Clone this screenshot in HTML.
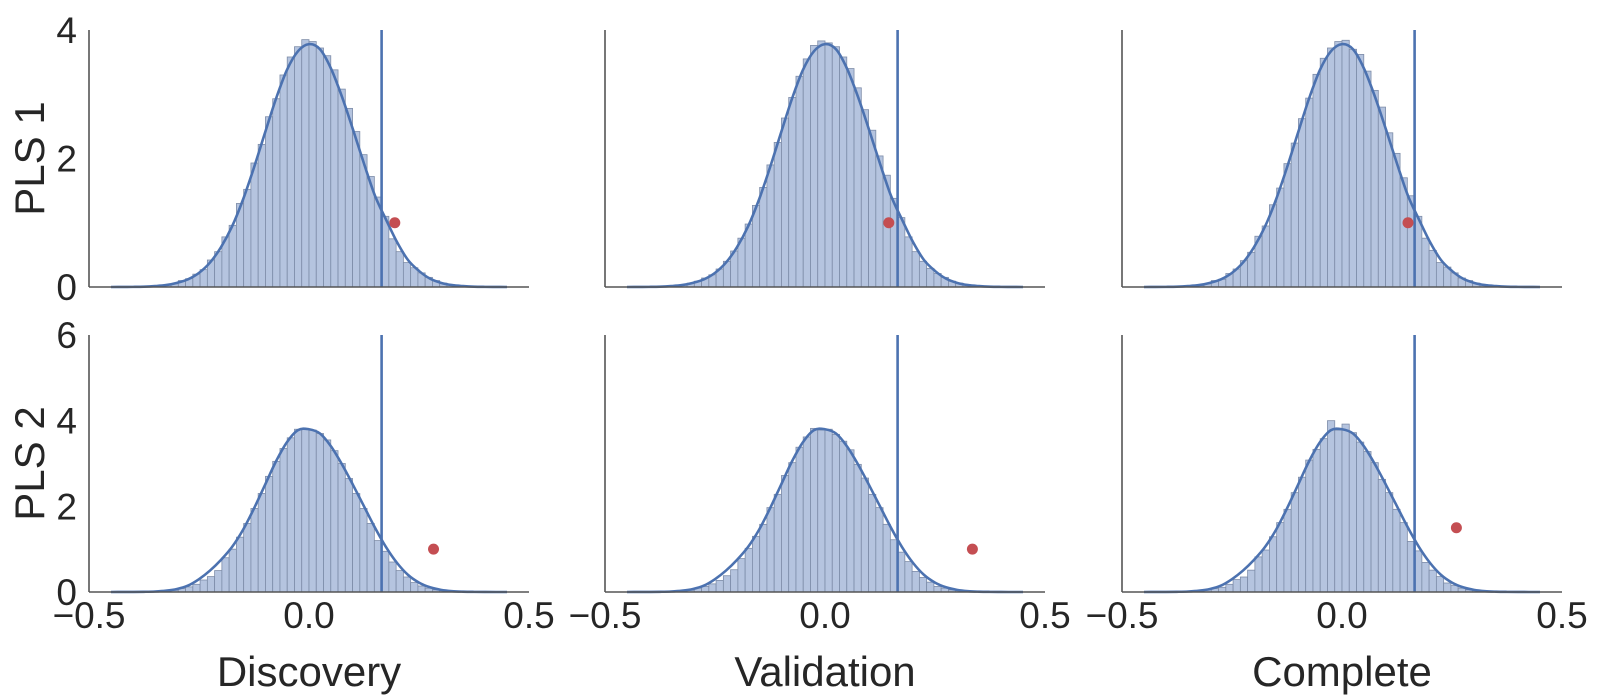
<!DOCTYPE html>
<html><head><meta charset="utf-8"><style>
html,body{margin:0;padding:0;background:#fff;}
svg{display:block;}
text{font-family:"Liberation Sans",Arial,sans-serif;fill:#262626;}
</style></head><body>
<svg id="chart" width="1600" height="695" viewBox="0 0 1600 695" xmlns="http://www.w3.org/2000/svg"></svg>
<script>
const binStart = -0.33;
const binWidth = 0.0165;
const kdeStart = -0.45;
const kdeStep = 0.025;
const colTitles = ["Discovery", "Validation", "Complete"];
const rowTitles = ["PLS 1", "PLS 2"];
const xTicks = [-0.5, 0.0, 0.5];
const xTickLabels = ["\u22120.5", "0.0", "0.5"];
const yTicksRow1 = [0, 2, 4];
const yTicksRow2 = [0, 2, 4, 6];
const yMaxRows = [4, 6];
const thresholds = [[0.165, 0.165, 0.165], [0.165, 0.165, 0.165]];
const observedX = [[0.195, 0.145, 0.15], [0.283, 0.335, 0.26]];
const observedY = [[1.0, 1.0, 1.0], [1.0, 1.0, 1.5]];
const histR1C1 = [0.03,0.05,0.10,0.13,0.20,0.27,0.42,0.55,0.78,0.96,1.30,1.52,1.93,2.22,2.65,2.93,3.30,3.58,3.74,3.85,3.82,3.72,3.60,3.38,3.08,2.78,2.42,2.06,1.72,1.40,1.10,0.75,0.55,0.38,0.30,0.22,0.15,0.10,0.06,0.04];
const histR1C2 = [0.03,0.06,0.09,0.14,0.19,0.28,0.40,0.56,0.76,0.98,1.27,1.55,1.90,2.25,2.63,2.95,3.28,3.55,3.76,3.83,3.80,3.74,3.58,3.40,3.10,2.76,2.44,2.04,1.74,1.38,1.08,0.78,0.55,0.40,0.29,0.21,0.15,0.09,0.06,0.04];
const histR1C3 = [0.02,0.05,0.10,0.12,0.21,0.28,0.41,0.54,0.79,0.95,1.28,1.54,1.92,2.24,2.62,2.94,3.31,3.56,3.72,3.82,3.84,3.70,3.62,3.36,3.06,2.80,2.40,2.08,1.70,1.42,1.10,0.76,0.57,0.38,0.31,0.22,0.14,0.10,0.06,0.04];
const histR2C1 = [0.02,0.04,0.08,0.12,0.18,0.28,0.36,0.50,0.80,1.00,1.28,1.60,1.95,2.30,2.70,3.05,3.35,3.60,3.80,3.80,3.78,3.70,3.55,3.30,3.00,2.65,2.30,1.95,1.60,1.20,0.95,0.70,0.50,0.35,0.22,0.14,0.09,0.05,0.03,0.02];
const histR2C2 = [0.02,0.04,0.09,0.13,0.19,0.27,0.38,0.52,0.78,1.02,1.30,1.58,1.97,2.28,2.72,3.02,3.38,3.62,3.82,3.78,3.80,3.68,3.52,3.32,2.98,2.66,2.28,1.97,1.58,1.22,0.93,0.71,0.48,0.34,0.23,0.13,0.09,0.05,0.03,0.02];
const histR2C3 = [0.02,0.05,0.08,0.11,0.18,0.29,0.35,0.51,0.82,0.98,1.29,1.62,1.93,2.32,2.68,3.08,3.33,3.58,4.00,3.78,3.92,3.72,3.50,3.28,3.02,2.63,2.32,1.93,1.62,1.18,0.96,0.69,0.51,0.36,0.21,0.15,0.09,0.05,0.03,0.02];
const kdeRow1 = [0,0.001,0.002,0.005,0.014,0.03,0.065,0.12,0.22,0.38,0.62,0.94,1.36,1.86,2.40,2.93,3.38,3.67,3.78,3.70,3.40,2.96,2.45,1.92,1.42,1.05,0.70,0.42,0.25,0.13,0.065,0.03,0.014,0.005,0.002,0.001,0];
const kdeRow2 = [0,0.001,0.002,0.005,0.012,0.03,0.07,0.15,0.30,0.50,0.75,1.05,1.45,1.95,2.50,3.05,3.50,3.78,3.80,3.70,3.40,2.98,2.50,2.00,1.50,1.05,0.68,0.40,0.22,0.11,0.05,0.02,0.008,0.003,0.001,0,0];
const hists = [[histR1C1, histR1C2, histR1C3], [histR2C1, histR2C2, histR2C3]];
const kdes = [kdeRow1, kdeRow2];
const yTicksRows = [yTicksRow1, yTicksRow2];

const NS = "http://www.w3.org/2000/svg";
const svg = document.getElementById("chart");
const colLeft = [89, 605, 1122];
const panelW = 440;
const rowBottom = [287, 592];
const panelH = 257;

function mk(tag, attrs, parent) {
  const e = document.createElementNS(NS, tag);
  for (const k in attrs) e.setAttribute(k, attrs[k]);
  parent.appendChild(e);
  return e;
}

for (let r = 0; r < 2; r++) {
  for (let c = 0; c < 3; c++) {
    const x0 = colLeft[c], yb = rowBottom[r];
    const sx = v => x0 + (v + 0.5) * panelW;
    const sy = v => yb - v / yMaxRows[r] * panelH;
    const g = mk("g", {}, svg);
    
    
    const hist = hists[r][c];
    for (let i = 0; i < hist.length; i++) {
      const a = binStart + i * binWidth;
      const rect = mk("rect", {x: sx(a), y: sy(hist[i]), width: sx(a + binWidth) - sx(a), height: sy(0) - sy(hist[i]), fill: "#b5c4df", stroke: "#7d8ca8", "stroke-width": 0.8}, g);
      
      
    }
    const kd = kdes[r];
    const pts = kd.map((v, i) => [sx(kdeStart + i * kdeStep), sy(v)]);
    let d = "M" + pts[0][0] + "," + pts[0][1];
    for (let i = 0; i < pts.length - 1; i++) {
      const p0 = pts[Math.max(0, i - 1)], p1 = pts[i], p2 = pts[i + 1], p3 = pts[Math.min(pts.length - 1, i + 2)];
      const c1x = p1[0] + (p2[0] - p0[0]) / 6, c1y = p1[1] + (p2[1] - p0[1]) / 6;
      const c2x = p2[0] - (p3[0] - p1[0]) / 6, c2y = p2[1] - (p3[1] - p1[1]) / 6;
      d += " C" + c1x + "," + c1y + " " + c2x + "," + c2y + " " + p2[0] + "," + p2[1];
    }
    const kp = mk("path", {d: d, fill: "none", stroke: "#4c72b0", "stroke-width": 2.6}, g);
    
    
    const tx = sx(thresholds[r][c]);
    const vl = mk("line", {x1: tx, x2: tx, y1: sy(yMaxRows[r]), y2: sy(0), stroke: "#4c72b0", "stroke-width": 2.6}, g);
    
    
    const dot = mk("circle", {cx: sx(observedX[r][c]), cy: sy(observedY[r][c]), r: 5.5, fill: "#c44e52"}, g);
    
    
    const ya = mk("line", {x1: x0, x2: x0, y1: sy(yMaxRows[r]), y2: yb, stroke: "#555", "stroke-width": 1.6}, g);
    
    
    const xa = mk("line", {x1: x0, x2: x0 + panelW, y1: yb, y2: yb, stroke: "#555", "stroke-width": 1.6}, g);
    
    
    if (c === 0) {
      yTicksRows[r].forEach(v => {
        const t = mk("text", {x: 77, y: sy(v) + 13, "text-anchor": "end", "font-size": 37}, g);
        t.textContent = String(v);
        
        
      });
      const yc = yb - panelH / 2;
      const rt = mk("text", {x: 44, y: yc, "text-anchor": "middle", "font-size": 42, transform: "rotate(-90 44 " + yc + ")"}, g);
      rt.textContent = rowTitles[r];
      
      
    }
    if (r === 1) {
      xTicks.forEach((v, i) => {
        const t = mk("text", {x: sx(v), y: 628, "text-anchor": "middle", "font-size": 37}, g);
        t.textContent = xTickLabels[i];
        
        
      });
      const xt = mk("text", {x: sx(0), y: 686, "text-anchor": "middle", "font-size": 42}, g);
      xt.textContent = colTitles[c];
      
      
    }
  }
}
</script>
</body></html>
